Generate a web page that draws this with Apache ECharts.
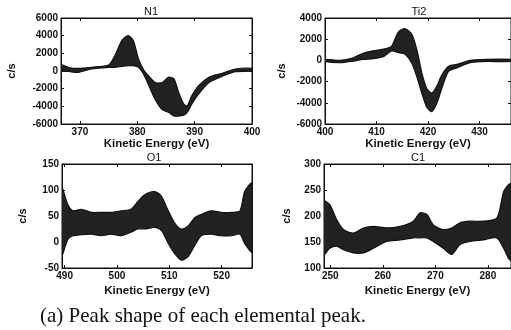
<!DOCTYPE html>
<html>
<head>
<meta charset="utf-8">
<title>Peak shape of each elemental peak</title>
<script src="https://cdn.jsdelivr.net/npm/echarts@6/dist/echarts.min.js"></script>
<style>
  html, body { margin: 0; padding: 0; background: #fff; }
  #chart { width: 511px; height: 330px; }
</style>
</head>
<body>
<div id="chart"></div>
<script>
// band of overlapping spectra: upper / lower envelope
var n1Energy = [366.7, 368, 369.7, 372, 375, 376.1, 377.3, 378.4, 379.3, 380.2, 381.1, 381.7, 383.1, 384.3, 385.5, 386.4, 387.2, 388.1, 388.7, 389.5, 390.7, 392.5, 394.8, 397.1, 400];
var n1Upper  = [700, 400, 300, 420, 680, 1750, 3450, 4000, 3450, 1400, 150, -350, -1300, -1300, -700, -900, -2400, -3750, -3950, -2800, -1650, -700, -250, 230, 300];
var n1Lower  = [0, -50, -150, 230, 420, 420, 530, 600, 600, 420, -350, -1200, -3200, -4350, -4700, -5100, -5100, -5000, -4700, -3750, -2600, -1300, -600, -80, 0];

var ti2Energy = [400, 402.9, 405.5, 407.4, 409.4, 411.3, 412.9, 414.2, 415.5, 416.8, 417.8, 418.8, 419.7, 420.7, 421.7, 422.7, 424.0, 425.6, 428.2, 431.4, 436.1];
var ti2Upper  = [100, 0, 250, 670, 900, 1060, 1320, 2650, 3000, 2500, 1060, -1180, -2600, -3080, -2440, -1340, -540, -380, 0, 100, 100];
var ti2Lower  = [-100, -220, -60, 100, 160, 350, 900, 750, 590, -220, -1500, -3100, -4360, -4840, -4040, -2600, -1020, -700, -220, -100, -100];

var o1Energy = [489.5, 490.6, 491.6, 493.2, 495.1, 497.0, 498.9, 500.8, 502.7, 504.0, 505.3, 507.2, 508.5, 509.8, 511.0, 512.3, 513.6, 514.9, 516.1, 518.0, 519.9, 521.9, 523.5, 524.4, 525.8];
var o1Upper  = [104, 72, 60, 63, 57, 57, 57, 60, 63, 78, 91, 97, 88, 60, 37, 25, 31, 47, 53, 60, 57, 57, 60, 97, 113];
var o1Lower  = [-25, 5, 12, 14, 15, 12, 15, 12, 19, 25, 25, 28, 22, -3, -22, -35, -28, -6, 12, 15, 12, 12, 15, -3, -19];

var c1Energy = [248.8, 249.9, 251.2, 252.5, 254.4, 256.3, 258.2, 260.7, 263.3, 265.8, 267.1, 268.4, 269.6, 271.5, 273.1, 274.7, 276.6, 279.1, 281.7, 283.0, 283.9, 284.4];
var c1Upper  = [228, 222, 193, 174, 167, 177, 180, 177, 180, 190, 206, 203, 183, 174, 177, 187, 190, 190, 196, 247, 260, 262];
var c1Lower  = [126, 138, 142, 135, 129, 129, 138, 151, 154, 158, 158, 158, 151, 138, 126, 145, 151, 154, 158, 138, 119, 115];

var panelTitles = ['N1', 'Ti2', 'O1', 'C1'];
var xTicks = [[370, 380, 390, 400], [400, 410, 420, 430], [490, 500, 510, 520], [250, 260, 270, 280]];
var xRange = [[366.7, 400], [400, 436.1], [489.5, 525.8], [248.8, 284.4]];
var yRange = [[-6000, 6000], [-6000, 4000], [-50, 150], [100, 300]];
var yStep  = [2000, 2000, 50, 50];

var bands = [
  [n1Energy, n1Lower, n1Upper],
  [ti2Energy, ti2Lower, ti2Upper],
  [o1Energy, o1Lower, o1Upper],
  [c1Energy, c1Lower, c1Upper]
];

// layout of the 2x2 panels; the right column is cut by the page edge like the scan
var grids = [
  { left: 61, top: 18, width: 191, height: 106 },
  { left: 325, top: 18, width: 186, height: 106 },
  { left: 62, top: 164, width: 190, height: 104 },
  { left: 324, top: 164, width: 187, height: 104 }
];
var titleAt = [[151, 12], [419, 12], [154, 158], [418, 158]];
var yNameGap = [44, 38, 34, 32];
var xNameGap = [7, 7, 17, 17];

var ink = '#111';
var tickFont = { color: ink, fontFamily: 'Liberation Sans', fontWeight: 'bold', fontSize: 10 };
var plain = function (v) { return String(v); };

// whole band drawn once, from every row of the series, in data coords
function renderBand(params, api) {
  if (params.dataIndexInside !== 0) return;
  var n = params.dataInsideLength;
  var top = [], bottom = [];
  for (var k = 0; k < n; k++) {
    var e = api.value(0, k);
    bottom.push(api.coord([e, api.value(1, k)]));
    top.push(api.coord([e, api.value(2, k)]));
  }
  var outline = top.concat(bottom.slice().reverse());
  return {
    type: 'polygon',
    shape: { points: outline, smooth: 0.25 },
    style: { fill: '#222', stroke: ink, lineWidth: 1.2 }
  };
}

var chart = echarts.init(document.getElementById('chart'), null, { renderer: 'canvas' });

var xAxes = [], yAxes = [], series = [], texts = [];
grids.forEach(function (g, i) {
  g.show = true;
  g.borderColor = ink;
  g.borderWidth = 1;
  g.backgroundColor = '#fff';

  // bottom axis with labels
  xAxes.push({
    gridIndex: i, type: 'value', position: 'bottom',
    min: xRange[i][0], max: xRange[i][1],
    name: 'Kinetic Energy (eV)', nameLocation: 'middle', nameGap: xNameGap[i],
    nameTextStyle: { color: ink, fontFamily: 'Liberation Sans', fontWeight: 'bold', fontSize: 11.5 },
    axisLine: { onZero: false, lineStyle: { color: ink } },
    axisTick: { inside: true, length: 3, customValues: xTicks[i], lineStyle: { color: ink } },
    axisLabel: Object.assign({ margin: 3, customValues: xTicks[i], formatter: plain }, tickFont),
    splitLine: { show: false }
  });
  // top axis, ticks only
  xAxes.push({
    gridIndex: i, type: 'value', position: 'top',
    min: xRange[i][0], max: xRange[i][1],
    axisLine: { onZero: false, lineStyle: { color: ink } },
    axisTick: { inside: true, length: 3, customValues: xTicks[i], lineStyle: { color: ink } },
    axisLabel: { show: false },
    splitLine: { show: false }
  });
  yAxes.push({
    gridIndex: i, type: 'value', position: 'left',
    min: yRange[i][0], max: yRange[i][1], interval: yStep[i],
    name: 'c/s', nameLocation: 'middle', nameGap: yNameGap[i], nameRotate: 90,
    nameTextStyle: { color: ink, fontFamily: 'Liberation Sans', fontWeight: 'bold', fontSize: 11 },
    axisLine: { onZero: false, lineStyle: { color: ink } },
    axisTick: { inside: true, length: 3, lineStyle: { color: ink } },
    axisLabel: Object.assign({ margin: 3, formatter: plain }, tickFont),
    splitLine: { show: false }
  });
  yAxes.push({
    gridIndex: i, type: 'value', position: 'right',
    min: yRange[i][0], max: yRange[i][1], interval: yStep[i],
    axisLine: { onZero: false, lineStyle: { color: ink } },
    axisTick: { inside: true, length: 3, lineStyle: { color: ink } },
    axisLabel: { show: false },
    splitLine: { show: false }
  });

  // panel name sitting on the top frame
  texts.push({
    type: 'text', x: titleAt[i][0], y: titleAt[i][1], z: 10,
    style: { text: panelTitles[i], fill: ink, font: '11px "Liberation Sans"', textAlign: 'center', textVerticalAlign: 'middle' }
  });

  var energy = bands[i][0], lower = bands[i][1], upper = bands[i][2];
  series.push({
    type: 'custom', xAxisIndex: 2 * i, yAxisIndex: 2 * i,
    renderItem: renderBand, clip: true, silent: true,
    encode: { x: 0, y: [1, 2] },
    data: energy.map(function (e, k) { return [e, lower[k], upper[k]]; })
  });
});

texts.push({
  type: 'text', left: 40, top: 306,
  style: { text: '(a) Peak shape of each elemental peak.', fill: ink, font: '21px "Liberation Serif"' }
});

chart.setOption({
  backgroundColor: '#fff',
  animation: false,
  grid: grids,
  xAxis: xAxes,
  yAxis: yAxes,
  series: series,
  graphic: texts
});
</script>
</body>
</html>
